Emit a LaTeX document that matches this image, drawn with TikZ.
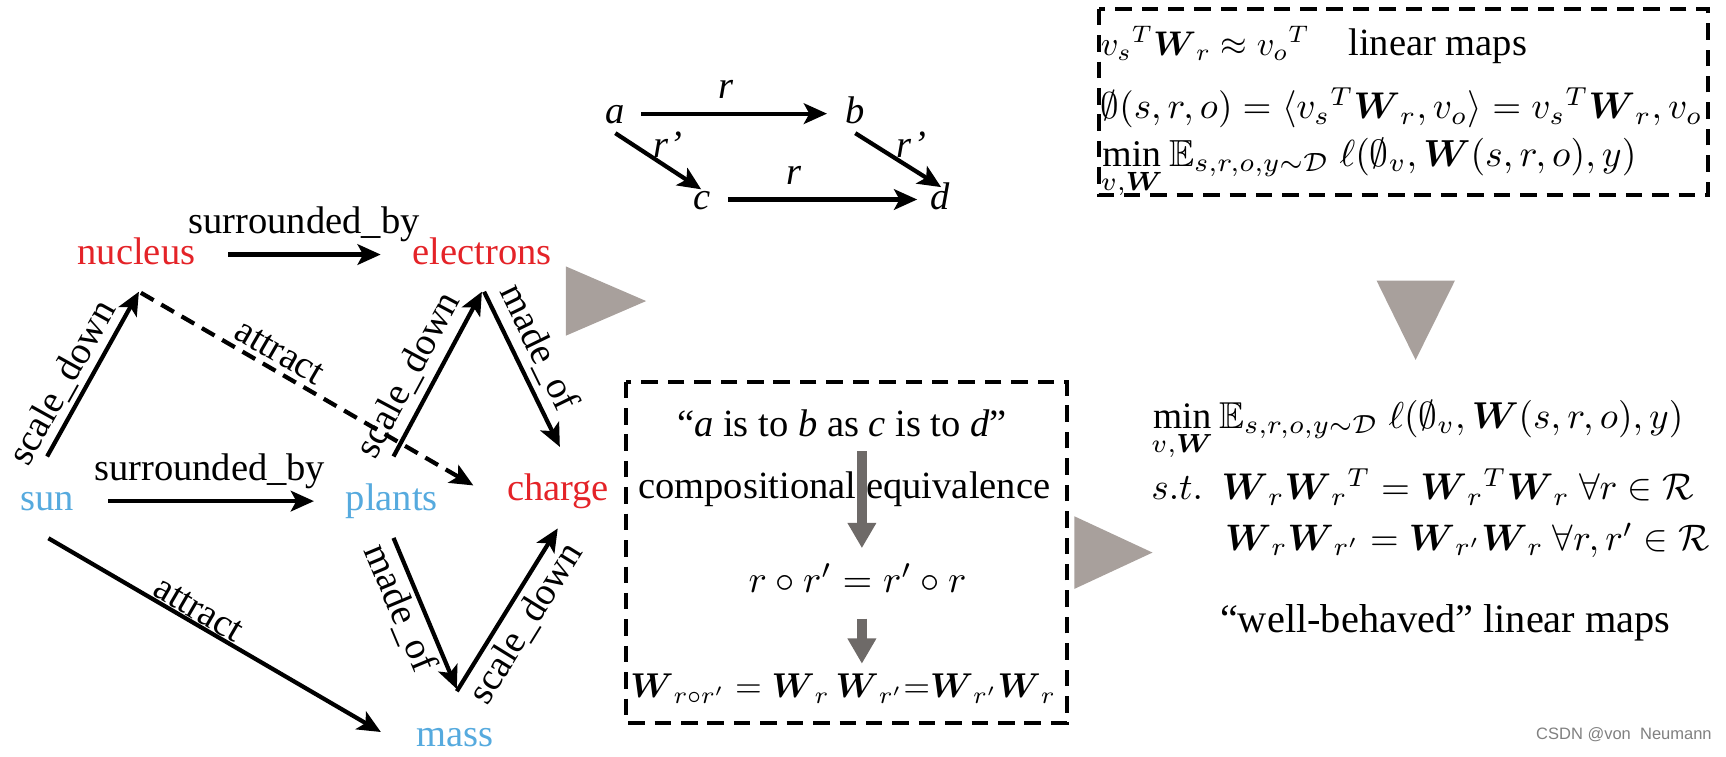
\RequirePackage{fix-cm}
\documentclass[tikz,border=0pt]{standalone}
\usepackage{amsmath,amssymb}
\usepackage{fontspec}
\setmainfont{Liberation Serif}
\setsansfont{Liberation Sans}
\usetikzlibrary{arrows.meta}
\definecolor{nred}{RGB}{228,35,40}
\definecolor{nblue}{RGB}{86,170,222}
\definecolor{trigray}{RGB}{168,160,156}
\definecolor{arrgray}{RGB}{110,106,104}
\newcommand{\fitmath}[2]{\resizebox{#1}{!}{$#2$}}
\begin{document}
\begin{tikzpicture}[x=0.3pt,y=-0.3pt,
  every node/.style={inner sep=0pt,outer sep=0pt},
  word/.style={font=\fontsize{10.5}{12}\selectfont,anchor=base,text height=7.35pt,text depth=2.1pt},
  lbl/.style={font=\fontsize{10.5}{12}\selectfont,anchor=base},
  slbl/.style={lbl,sloped},
  arr/.style={line width=1.15pt,-{Stealth[length=6.3pt,width=5.6pt,inset=1.5pt]}},
  dashedarr/.style={arr,dash pattern=on 4pt off 2.4pt},
  dbox/.style={line width=1.1pt,dash pattern=on 4.5pt off 2.7pt},
  garr/.style={draw=arrgray,line width=2.6pt,-{Triangle[length=6.9pt,width=7.4pt]}},
  tri/.style={fill=trigray,draw=none},
  mth/.style={font=\fontsize{10.5}{12}\selectfont,anchor=base west},
  txt/.style={font=\fontsize{10.5}{12}\selectfont,anchor=base},
]
\useasboundingbox (0,0) rectangle (1568,687);

% ---------- left graph ----------
\node[word,text=nred]  (nucleus)   at (124,240) {nucleus};
\node[word,text=nred]  (electrons) at (438,240) {electrons};
\node[word,text=nblue] (sun)       at (42.5,464) {sun};
\node[word,text=nblue] (plants)    at (356,464) {plants};
\node[word,text=nred]  (charge)    at (507,455) {charge};
\node[word,text=nblue] (mass)      at (413,678) {mass};

\draw[arr,shorten <=9pt,shorten >=8.7pt] (nucleus.east) -- (electrons.west)
  node[lbl,midway,yshift=5.7pt] {surrounded\_by};
\draw[arr,shorten <=9.5pt,shorten >=8.7pt] (sun.east) -- (plants.west)
  node[lbl,midway,yshift=5.7pt] {surrounded\_by};

\coordinate (sunN)   at (42.8,414.7);
\coordinate (nucS)   at (126.2,265);
\coordinate (nucSE)  at (128,266);
\coordinate (chgNW)  at (430,441);
\coordinate (plaN)   at (357.5,414.7);
\coordinate (eleS)   at (437.8,265);
\coordinate (eleSE)  at (439.8,265);
\coordinate (chgN)   at (508.6,406);
\coordinate (plaS)   at (357.5,488.7);
\coordinate (masN)   at (415,626);
\coordinate (masN2)  at (415,628);
\coordinate (chgS)   at (506.7,480);
\coordinate (sunS)   at (44,489);
\coordinate (masW)   at (346,665);

\draw[arr] (sunN) -- (nucS) node[slbl,pos=0.38,yshift=3pt] {scale\_down};
\draw[dashedarr] (nucSE) -- (chgNW) node[slbl,pos=0.39,yshift=2pt] {attract};
\draw[arr] (plaN) -- (eleS) node[slbl,pos=0.42,yshift=3.9pt] {scale\_down};
\draw[arr] (eleSE) -- (chgN) node[slbl,pos=0.43,yshift=3.7pt] {made\_of};
\draw[arr] (plaS) -- (masN) node[slbl,pos=0.41,yshift=-8.8pt] {made\_of};
\draw[arr] (masN2) -- (chgS) node[slbl,pos=0.49,yshift=-9.3pt] {scale\_down};
\draw[arr] (sunS) -- (masW) node[slbl,pos=0.43,yshift=0.8pt] {attract};

% ---------- small analogy diagram ----------
\node[word] (a) at (558.7,112) {\textit{a}};
\node[word] (b) at (776.7,112) {\textit{b}};
\node[word] (c) at (637.4,190) {\textit{c}};
\node[word] (d) at (854,190) {\textit{d}};
\draw[arr,shorten <=4.5pt,shorten >=5pt] (a.east) -- (b.west)
  node[lbl,pos=0.46,yshift=4pt] {\textit{r}};
\draw[arr,shorten <=4.8pt,shorten >=3.6pt] (c.east) -- (d.west)
  node[lbl,pos=0.38,yshift=4pt] {\textit{r}};
\coordinate (aS) at (559,121); \coordinate (cN) at (637,172);
\coordinate (bS) at (777,121); \coordinate (dN) at (855,170);
\draw[arr] (aS) -- (cN) node[lbl,pos=0.52,xshift=2.2pt,yshift=1.35pt] {\textit{r’}};
\draw[arr] (bS) -- (dN) node[lbl,pos=0.52,xshift=3.1pt,yshift=1pt] {\textit{r’}};

% ---------- gray triangles ----------
\fill[tri] (514,242) -- (514,305) -- (587,273.5) -- cycle;
\fill[tri] (976,469) -- (976,535) -- (1047,502) -- cycle;
\fill[tri] (1250.6,255) -- (1321.7,255) -- (1286,327) -- cycle;

% ---------- compositional box ----------
\draw[dbox] (569,346.7) rectangle (969,657);
\node[txt] (q) at (765,396.7) {“\textit{a} is to \textit{b} as \textit{c} is to \textit{d}”};
\node[txt] (ce) at (767,452.7) {compositional equivalence};
\node[txt] (rr) at (779,538) {\fitmath{59.4pt}{r\circ r' = r'\circ r}};
\node[txt] (ww) at (766,634) {\fitmath{116pt}{\boldsymbol{W}_{r\circ r'} = \boldsymbol{W}_r\,\boldsymbol{W}_{r'}{=}\boldsymbol{W}_{r'}\boldsymbol{W}_r}};
\coordinate (g1s) at (783,410); \coordinate (g1e) at (783,498);
\coordinate (g2s) at (783,562); \coordinate (g2e) at (783,603);
\draw[garr] (g1s) -- (g1e);
\draw[garr] (g2s) -- (g2e);

% ---------- top right box ----------
\draw[dbox] (998,8) rectangle (1552,177);
\node[mth] (l1) at (1000,50) {\fitmath{57pt}{v_s{}^{T}\boldsymbol{W}_r \approx v_o{}^{T}}};
\node[txt,anchor=base west] (lm) at (1225,50) {linear maps};
\node[mth] (l2) at (1000,108) {\fitmath{164pt}{\emptyset(s,r,o) = \langle v_s{}^{T}\boldsymbol{W}_r, v_o\rangle = v_s{}^{T}\boldsymbol{W}_r, v_o}};
\node[mth] (l3) at (1000,151) {\fitmath{146pt}{\min\limits_{v,\boldsymbol{W}} \mathbb{E}_{s,r,o,y\sim\mathcal{D}}\;\ell(\emptyset_v, \boldsymbol{W}(s,r,o), y)}};

% ---------- right formulas ----------
\node[mth] (m1) at (1046,389) {\fitmath{145pt}{\min\limits_{v,\boldsymbol{W}} \mathbb{E}_{s,r,o,y\sim\mathcal{D}}\;\ell(\emptyset_v, \boldsymbol{W}(s,r,o), y)}};
\node[mth] (m2) at (1046,454) {\fitmath{148pt}{s.t.\ \ \boldsymbol{W}_r\boldsymbol{W}_r{}^{T} = \boldsymbol{W}_r{}^{T}\boldsymbol{W}_r\ \forall r\in\mathcal{R}}};
\node[mth] (m3) at (1113,500) {\fitmath{132pt}{\boldsymbol{W}_r\boldsymbol{W}_{r'} = \boldsymbol{W}_{r'}\boldsymbol{W}_r\ \forall r,r'\in\mathcal{R}}};
\node[font=\fontsize{11}{13}\selectfont,anchor=base] (wb) at (1313,575) {“well-behaved” linear maps};

\node[font=\sffamily\fontsize{4.5}{5}\selectfont,text=black!50,anchor=base east] (wm) at (1555,672) {CSDN @von\ \ Neumann};
\end{tikzpicture}
\end{document}
